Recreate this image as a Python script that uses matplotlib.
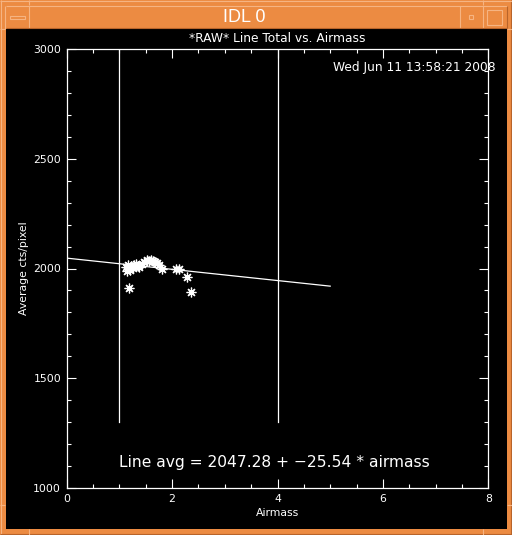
import matplotlib
matplotlib.use("Agg")
import matplotlib.pyplot as plt
from matplotlib.patches import Rectangle
import numpy as np

# ---- data ----
airmass = [1.13, 1.15, 1.17, 1.20, 1.22, 1.25, 1.28, 1.32, 1.35, 1.38, 1.42, 1.47,
           1.52, 1.56, 1.60, 1.63, 1.67, 1.71, 1.75, 1.80, 2.08, 2.13, 1.19, 2.29, 2.35]
line_avg = [2005, 1990, 2018, 1995, 2010, 2003, 2015, 2020, 2010, 2005, 2022, 2030,
            2038, 2035, 2040, 2032, 2030, 2025, 2015, 2000, 1999, 2000, 1912, 1960, 1891]
fit_intercept = 2047.28
fit_slope = -25.54
fit_x = [0, 5]
limit_x = [1, 4]
limit_y = [1300, 3000]
title = "*RAW* Line Total vs. Airmass"
xlabel = "Airmass"
ylabel = "Average cts/pixel"
date_text = "Wed Jun 11 13:58:21 2008"
window_title = "IDL 0"

W, H = 512, 535
ORANGE = "#EC8B42"
LIGHT = "#F6B482"
DARK = "#B8642A"

fig = plt.figure(figsize=(W / 100, H / 100), dpi=100)
fig.patch.set_facecolor(ORANGE)

# background / window frame in pixel coords
bg = fig.add_axes([0, 0, 1, 1])
bg.set_xlim(0, W)
bg.set_ylim(H, 0)
bg.axis("off")
bg.add_patch(Rectangle((6, 29), 501, 500, facecolor="black", edgecolor="none"))
lw = 0.8
for (x0, y0, x1, y1, c) in [
    (1, 0, 1, H, LIGHT), (W - 1, 0, W - 1, H, DARK),
    (0, 1, W, 1, LIGHT), (0, H - 1, W, H - 1, DARK),
    (5, 6, 5, 29, LIGHT), (6, 6, 507, 6, LIGHT),
    (29, 6, 29, 28, LIGHT), (460, 6, 460, 28, LIGHT), (483, 6, 483, 28, LIGHT),
    (507, 6, 507, 28, DARK), (6, 28, 507, 28, DARK),
    (29, 0, 29, 5, LIGHT), (483, 0, 483, 5, LIGHT),
    (29, 529, 29, H, LIGHT), (483, 529, 483, H, LIGHT),
    (0, 29, 5, 29, LIGHT), (0, 505, 5, 505, LIGHT),
    (507, 29, W, 29, LIGHT), (507, 505, W, 505, LIGHT),
]:
    bg.plot([x0, x1], [y0, y1], color=c, lw=lw, solid_capstyle="butt")
# buttons
bg.add_patch(Rectangle((10, 16), 15, 2.5, facecolor=ORANGE, edgecolor=LIGHT, lw=0.8))
bg.add_patch(Rectangle((469, 15), 4, 4, facecolor=ORANGE, edgecolor=LIGHT, lw=0.8))
bg.add_patch(Rectangle((487, 10), 15, 15, facecolor=ORANGE, edgecolor=LIGHT, lw=0.8))
bg.text(244, 17, window_title, color="white", fontsize=13, ha="center", va="center",
        family="Liberation Sans")

# title
bg.text(277, 38, title, color="white", fontsize=8.8, ha="center", va="center")

# ---- plot axes ----
left, right, top, bottom = 66.7, 488.3, 49, 488
ax = fig.add_axes([left / W, 1 - bottom / H, (right - left) / W, (bottom - top) / H])
ax.set_facecolor("black")
ax.set_xlim(0, 8)
ax.set_ylim(1000, 3000)
for s in ax.spines.values():
    s.set_color("white")
    s.set_linewidth(0.9)
ax.set_xticks([0, 2, 4, 6, 8])
ax.set_yticks([1000, 1500, 2000, 2500, 3000])
ax.set_xticks(np.arange(0, 8.01, 0.5), minor=True)
ax.set_yticks(np.arange(1000, 3001, 100), minor=True)
ax.tick_params(which="both", direction="in", colors="white", top=True, right=True,
               labelsize=7.8, width=0.8)
ax.tick_params(which="major", length=6.5, pad=4)
ax.tick_params(which="minor", length=3)
ax.set_xlabel(xlabel, color="white", fontsize=7.8, labelpad=3)
ax.set_ylabel(ylabel, color="white", fontsize=7.8, labelpad=3)

fx = np.array(fit_x, dtype=float)
ax.plot(fx, fit_intercept + fit_slope * fx, color="white", lw=0.9)
for lx in limit_x:
    ax.plot([lx, lx], limit_y, color="white", lw=0.9)
ax.plot(airmass, line_avg, linestyle="none", marker=(8, 2, 0), markersize=7,
        markeredgecolor="white", markeredgewidth=0.9)
eq = "Line avg = %.2f + %.2f * airmass" % (fit_intercept, fit_slope)
ax.text(1, 1114, eq.replace("-", "\u2212"),
        color="white", fontsize=11.2, ha="left", va="center")

# date stamp (above the plot axes)
fig.text(496 / W, 1 - 68 / H, date_text, color="white", fontsize=8.8,
         ha="right", va="center", zorder=10)

fig.savefig("out.png", dpi=100, facecolor=fig.get_facecolor())
